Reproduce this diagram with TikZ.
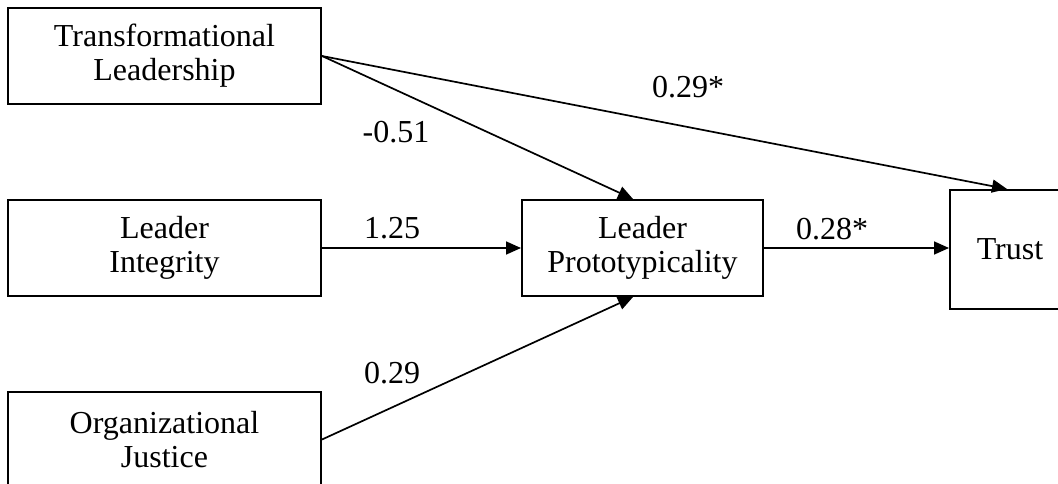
\documentclass[tikz,border=0pt]{standalone}
\usepackage{fontspec}
\setmainfont{Liberation Serif}
\usetikzlibrary{arrows.meta,calc}
\begin{document}
\begin{tikzpicture}[x=1pt,y=-1pt,
  txt/.style={font=\fontsize{32}{34}\selectfont},
  box/.style={txt,draw,line width=2pt,align=center,inner sep=0pt},
  lbl/.style={txt,anchor=base,inner sep=0pt},
  conn/.style={line width=1.7pt,-{Triangle[length=15pt,width=13pt]}}]
\path[use as bounding box,clip] (0,0) rectangle (1058,484);
\fill[white] (0,0) rectangle (1058,484);
\node[box,minimum width=313pt,minimum height=96pt] (tl) at (164.5,56) {Transformational\\Leadership};
\node[box,minimum width=313pt,minimum height=96pt] (li) at (164.5,248) {Leader\\Integrity};
\node[box,minimum width=313pt,minimum height=95pt] (oj) at (164.5,439.5) {Organizational\\Justice};
\node[box,minimum width=241pt,minimum height=96pt] (lp) at (642.5,248) {Leader\\Prototypicality};
\node[box,minimum width=120pt,minimum height=119pt] (trust) at (1010,249.5) {Trust};
\coordinate (lptop) at ($(lp.north)+(-9.5,0)$);
\coordinate (lpbot) at ($(lp.south)+(-9.5,0)$);
\coordinate (trtop) at ($(trust.north)+(-3,0)$);
\draw[conn] (tl.east) -- (lptop);
\draw[conn] (tl.east) -- (trtop);
\draw[conn] (li.east) -- (lp.west);
\draw[conn] (oj.east) -- (lpbot);
\draw[conn] (lp.east) -- (lp.east -| trust.west);
\node[lbl] (l1) at (688,98) {0.29*};
\node[lbl] (l2) at (396,143) {-0.51};
\node[lbl] (l3) at (392,238) {1.25};
\node[lbl] (l4) at (832,239) {0.28*};
\node[lbl] (l5) at (392,383) {0.29};
\end{tikzpicture}
\end{document}
